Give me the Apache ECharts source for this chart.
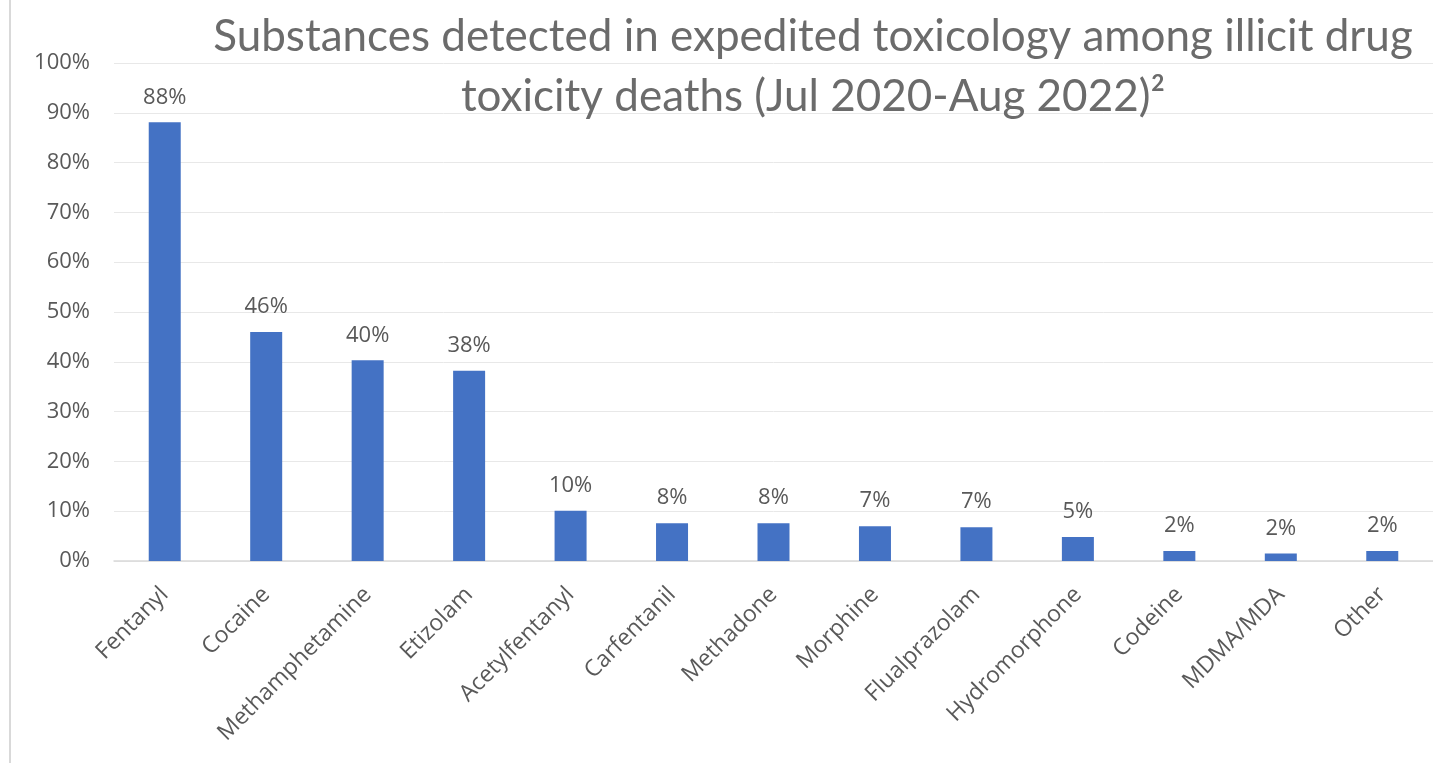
<!DOCTYPE html>
<html>
<head>
<meta charset="utf-8">
<script src="https://cdn.jsdelivr.net/npm/echarts@6/dist/echarts.min.js"></script>
<style>
  html, body { margin: 0; padding: 0; background: #fff; }
  #chart { width: 1433px; height: 763px; }
</style>
</head>
<body>
<div id="chart"></div>
<script>
// Substances detected in expedited toxicology - bar chart

const substances = [
  'Fentanyl', 'Cocaine', 'Methamphetamine', 'Etizolam', 'Acetylfentanyl',
  'Carfentanil', 'Methadone', 'Morphine', 'Flualprazolam', 'Hydromorphone',
  'Codeine', 'MDMA/MDA', 'Other'
];

// percent of deaths
const detected = [88.1, 46.0, 40.3, 38.2, 10.1, 7.6, 7.6, 7.0, 6.8, 4.8, 2.0, 1.5, 2.0];

const titleLines = [
  'Substances detected in expedited toxicology among illicit drug',
  'toxicity deaths (Jul 2020-Aug 2022)²'
];

const myChart = echarts.init(document.getElementById('chart'));

const labelColor = '#595959';

const option = {
  animation: false,
  title: {
    text: titleLines.join('\n'),
    left: 808,
    top: 2,
    textAlign: 'center',
    textStyle: {
      fontFamily: 'Lato',
      fontWeight: 'normal',
      fontSize: 44,
      lineHeight: 60,
      color: '#6b6b6b'
    }
  },
  graphic: [
    {
      type: 'line',
      shape: { x1: 10, y1: 0, x2: 10, y2: 763 },
      style: { stroke: '#d9d9d9', lineWidth: 2 }
    }
  ],
  grid: {
    left: 114,
    right: -14,
    top: 63,
    bottom: 202
  },
  xAxis: {
    type: 'category',
    data: substances,
    axisLine: { lineStyle: { color: '#d9d9d9', width: 1.5 } },
    axisTick: { show: false },
    axisLabel: {
      interval: 0,
      rotate: 45,
      margin: 30,
      color: labelColor,
      fontFamily: 'Open Sans',
      fontSize: 23
    }
  },
  yAxis: {
    type: 'value',
    min: 0,
    max: 100,
    interval: 10,
    axisLine: { show: false },
    axisTick: { show: false },
    splitLine: { lineStyle: { color: '#e8e8e8', width: 1 } },
    axisLabel: {
      formatter: '{value}%',
      margin: 24,
      color: labelColor,
      fontFamily: 'Open Sans',
      fontSize: 22
    }
  },
  series: [
    {
      name: 'Detected',
      type: 'bar',
      data: detected,
      barWidth: 32,
      itemStyle: { color: '#4472C4' },
      label: {
        show: true,
        position: 'top',
        distance: 14,
        color: labelColor,
        fontFamily: 'Open Sans',
        fontSize: 22,
        formatter: function (p) {
          return Math.round(p.value) + '%';
        }
      }
    }
  ]
};

myChart.setOption(option);
</script>
</body>
</html>
